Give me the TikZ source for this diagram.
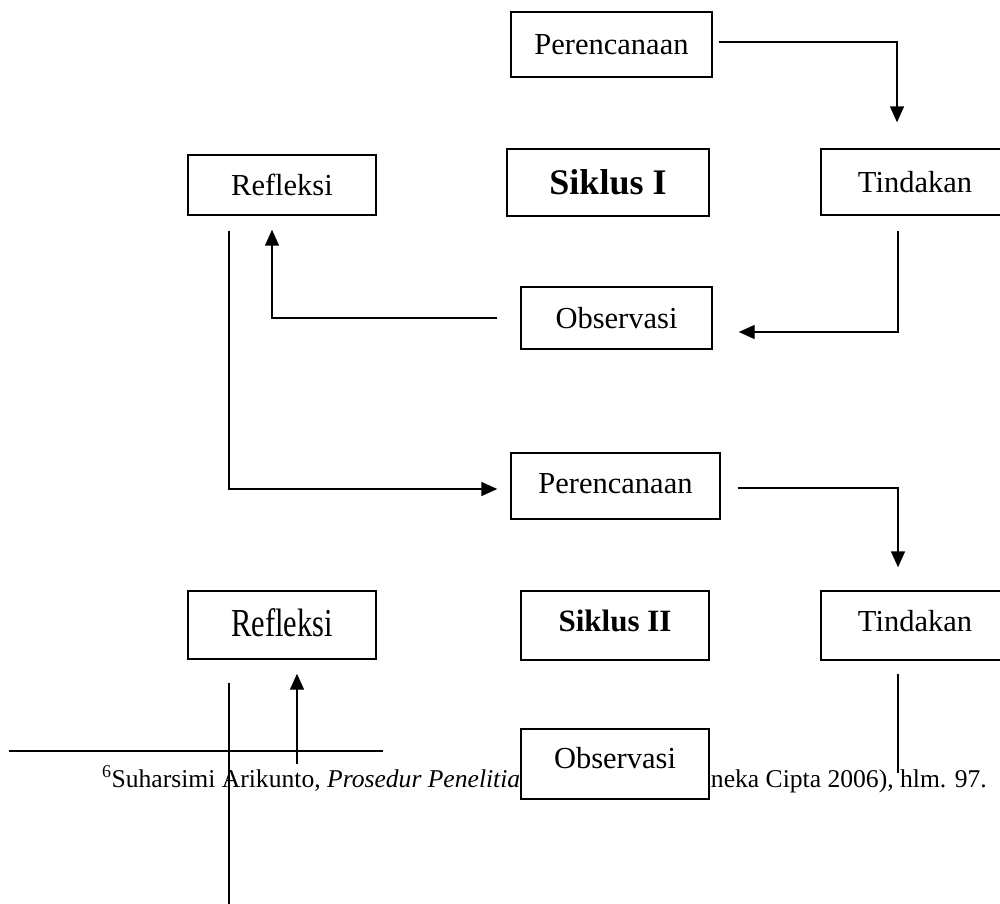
\documentclass[tikz,border=0pt]{standalone}
\usepackage{fontspec}
\setmainfont{Liberation Serif}
\usetikzlibrary{arrows.meta,calc}
\begin{document}
\begin{tikzpicture}[x=1pt,y=-1pt,
  box/.style={draw, line width=1.4pt, inner sep=0pt, fill=white,
    font=\fontsize{30.5}{34}\selectfont},
  conn/.style={line width=1.4pt},
  arr/.style={conn, -{Triangle[length=16pt,width=14pt]}},
  foot/.style={inner sep=0pt, font=\fontsize{25.6}{30}\selectfont},
]
\useasboundingbox (0,0) rectangle (1000,903);

% footnote text (partly covered by the lower Observasi box)
\node[foot, anchor=base west] (fnl) at (102,787) {\textsuperscript{6}Suharsimi Arikunto, \textit{Prosedur Penelitian}};
\node[foot, anchor=base east] (fnr) at (987,787) {(Jakarta: Rineka Cipta 2006), hlm. 97.};

% cycle I
\node[box, minimum width=201pt, minimum height=65pt] (p1) at (611.5,44.5) {Perencanaan};
\node[box, minimum width=188pt, minimum height=66pt] (t1) at (915,182) {Tindakan};
\node[box, minimum width=202pt, minimum height=67pt, font=\fontsize{36}{40}\selectfont\bfseries] (s1) at (608,182.5) {Siklus I};
\node[box, minimum width=188pt, minimum height=60pt] (r1) at (282,185) {Refleksi};
\node[box, minimum width=191pt, minimum height=62pt] (o1) at (616.5,318) {Observasi};

% cycle II
\node[box, minimum width=209pt, minimum height=66pt, text depth=5pt] (p2) at (615.5,486) {Perencanaan};
\node[box, minimum width=188pt, minimum height=68pt, text depth=4pt] (r2) at (282,625) {\scalebox{1}[1.3]{Refleksi}};
\node[box, minimum width=188pt, minimum height=69pt, text depth=9pt, font=\fontsize{31}{35}\selectfont\bfseries] (s2) at (615,625.5) {Siklus II};
\node[box, minimum width=188pt, minimum height=69pt, text depth=9pt] (t2) at (915,625.5) {Tindakan};
\node[box, minimum width=188pt, minimum height=70pt, text depth=12pt] (o2) at (615,764) {Observasi};

% connectors
\draw[arr] ([xshift=6pt,yshift=2.5pt]p1.east) -| ([xshift=-18pt,yshift=26pt]t1.north);
\draw[arr] ([xshift=-17pt,yshift=-15pt]t1.south) |- ([xshift=26pt,yshift=-14pt]o1.east);
\draw[arr] ([xshift=-23pt]o1.west) -| ([xshift=-10pt,yshift=-14pt]r1.south);
\draw[arr] ([xshift=-53pt,yshift=-15pt]r1.south) |- ([xshift=-13pt,yshift=-3pt]p2.west);
\draw[arr] ([xshift=17pt,yshift=-2pt]p2.east) -| ([xshift=-17pt,yshift=23pt]t2.north);

\coordinate (t2end) at (898,773);
\draw[conn] ([xshift=-17pt,yshift=-13pt]t2.south) -- (t2end);
\coordinate (r2in) at (297,764);
\draw[arr] (r2in) -- ([xshift=15pt,yshift=-14pt]r2.south);
\coordinate (r2end) at (229,905);
\draw[conn] ([xshift=-53pt,yshift=-23pt]r2.south) -- (r2end);

% footnote rule
\coordinate (rulea) at (9,751);
\coordinate (ruleb) at (383,751);
\draw[line width=2.2pt] (rulea) -- (ruleb);
\end{tikzpicture}
\end{document}
